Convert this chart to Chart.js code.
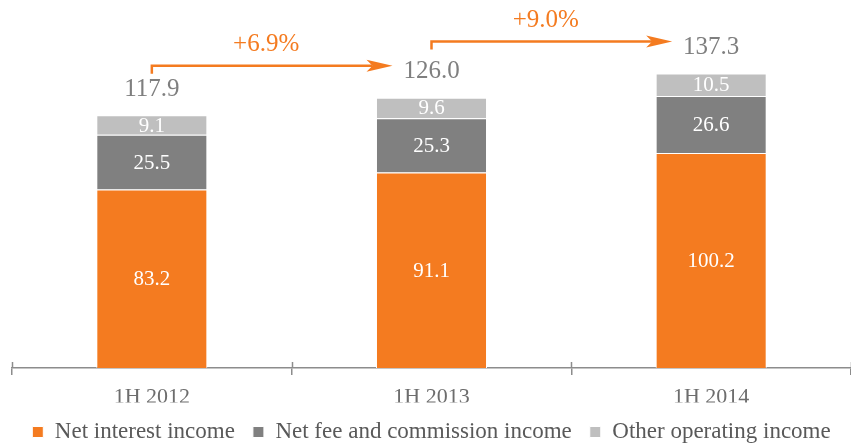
<!DOCTYPE html>
<html>
<head>
<meta charset="utf-8">
<script src="https://cdn.jsdelivr.net/npm/chart.js@4.4.1/dist/chart.umd.min.js"></script>
<style>
  html, body { margin: 0; padding: 0; background: #fff; }
  #wrap { width: 851px; height: 444px; }
</style>
</head>
<body>
<div id="wrap"><canvas id="myChart"></canvas></div>
<script>
const categories = ['1H 2012', '1H 2013', '1H 2014'];
const netInterest = [83.2, 91.1, 100.2];
const netFee = [25.5, 25.3, 26.6];
const otherOperating = [9.1, 9.6, 10.5];
const totals = [117.9, 126.0, 137.3];
const growth = ['+6.9%', '+9.0%'];

const SERIF = "'Liberation Serif', 'Times New Roman', serif";
const ORANGE = '#F47B20';
const AXIS = '#8c8c8c';

// labels inside segments, totals on top, growth arrows
const barLabels = {
  id: 'barLabels',
  afterDatasetsDraw(chart) {
    const ctx = chart.ctx;
    ctx.save();
    ctx.textAlign = 'center';
    ctx.textBaseline = 'middle';
    ctx.fillStyle = '#fff';
    ctx.font = '21px ' + SERIF;
    chart.data.datasets.forEach((ds, i) => {
      chart.getDatasetMeta(i).data.forEach((bar, j) => {
        ctx.fillText(ds.data[j].toFixed(1), bar.x, (bar.y + bar.base) / 2 + 1);
      });
    });

    const top = chart.getDatasetMeta(2).data;
    ctx.fillStyle = '#7F7F7F';
    ctx.font = '25px ' + SERIF;
    top.forEach((bar, j) => {
      ctx.fillText(totals[j].toFixed(1), bar.x, bar.y - 26);
    });

    // arrows
    ctx.strokeStyle = ORANGE;
    ctx.fillStyle = ORANGE;
    ctx.lineWidth = 2.5;
    growth.forEach((g, j) => {
      const x0 = top[j].x;
      const x1 = top[j + 1].x - 39;
      const y = top[j + 1].y - 32;
      ctx.beginPath();
      ctx.moveTo(x0, y + 8);
      ctx.lineTo(x0, y);
      ctx.lineTo(x1 - 20, y);
      ctx.stroke();
      ctx.beginPath();
      ctx.moveTo(x1, y);
      ctx.lineTo(x1 - 26, y - 6);
      ctx.lineTo(x1 - 20, y);
      ctx.lineTo(x1 - 26, y + 6);
      ctx.closePath();
      ctx.fill();
      ctx.font = '25px ' + SERIF;
      ctx.fillText(g, (x0 + x1) / 2 - 6, y - 21);
    });

    // tick marks poking above the axis line
    const xs = chart.scales.x;
    ctx.strokeStyle = AXIS;
    ctx.lineWidth = 1.5;
    for (let i = 0; i <= categories.length; i++) {
      const px = Math.round(xs.getPixelForValue(i - 0.5)) + 0.5;
      ctx.beginPath();
      ctx.moveTo(px, xs.top - 6);
      ctx.lineTo(px, xs.top);
      ctx.stroke();
    }
    ctx.restore();
  }
};

new Chart(document.getElementById('myChart'), {
  type: 'bar',
  data: {
    labels: categories,
    datasets: [
      { label: 'Net interest income', data: netInterest, backgroundColor: ORANGE },
      { label: 'Net fee and commission income', data: netFee, backgroundColor: '#808080' },
      { label: 'Other operating income', data: otherOperating, backgroundColor: '#BFBFBF' }
    ].map(d => Object.assign(d, {
      borderColor: '#ffffff',
      borderWidth: 1,
      borderSkipped: 'bottom',
      categoryPercentage: 1,
      barPercentage: 0.397
    }))
  },
  options: {
    responsive: true,
    maintainAspectRatio: false,
    animation: false,
    layout: { padding: { left: 12, right: 0, top: 0, bottom: -9.5 } },
    scales: {
      x: {
        stacked: true,
        border: { display: true, color: AXIS, width: 1.5 },
        grid: { drawOnChartArea: false, drawTicks: true, tickLength: 7, color: AXIS, lineWidth: 1.5 },
        ticks: { color: '#6d6d6d', font: { family: SERIF, size: 22 }, padding: 9 },
        afterFit(scale) { scale.height = 34.5; }
      },
      y: {
        stacked: true,
        display: false,
        min: 0,
        max: 171.5
      }
    },
    plugins: {
      legend: {
        position: 'bottom',
        labels: {
          boxWidth: 11,
          boxHeight: 11,
          padding: 18,
          color: '#595959',
          font: { family: SERIF, size: 23 }
        }
      },
      tooltip: { enabled: false }
    }
  },
  plugins: [barLabels]
});
</script>
</body>
</html>
